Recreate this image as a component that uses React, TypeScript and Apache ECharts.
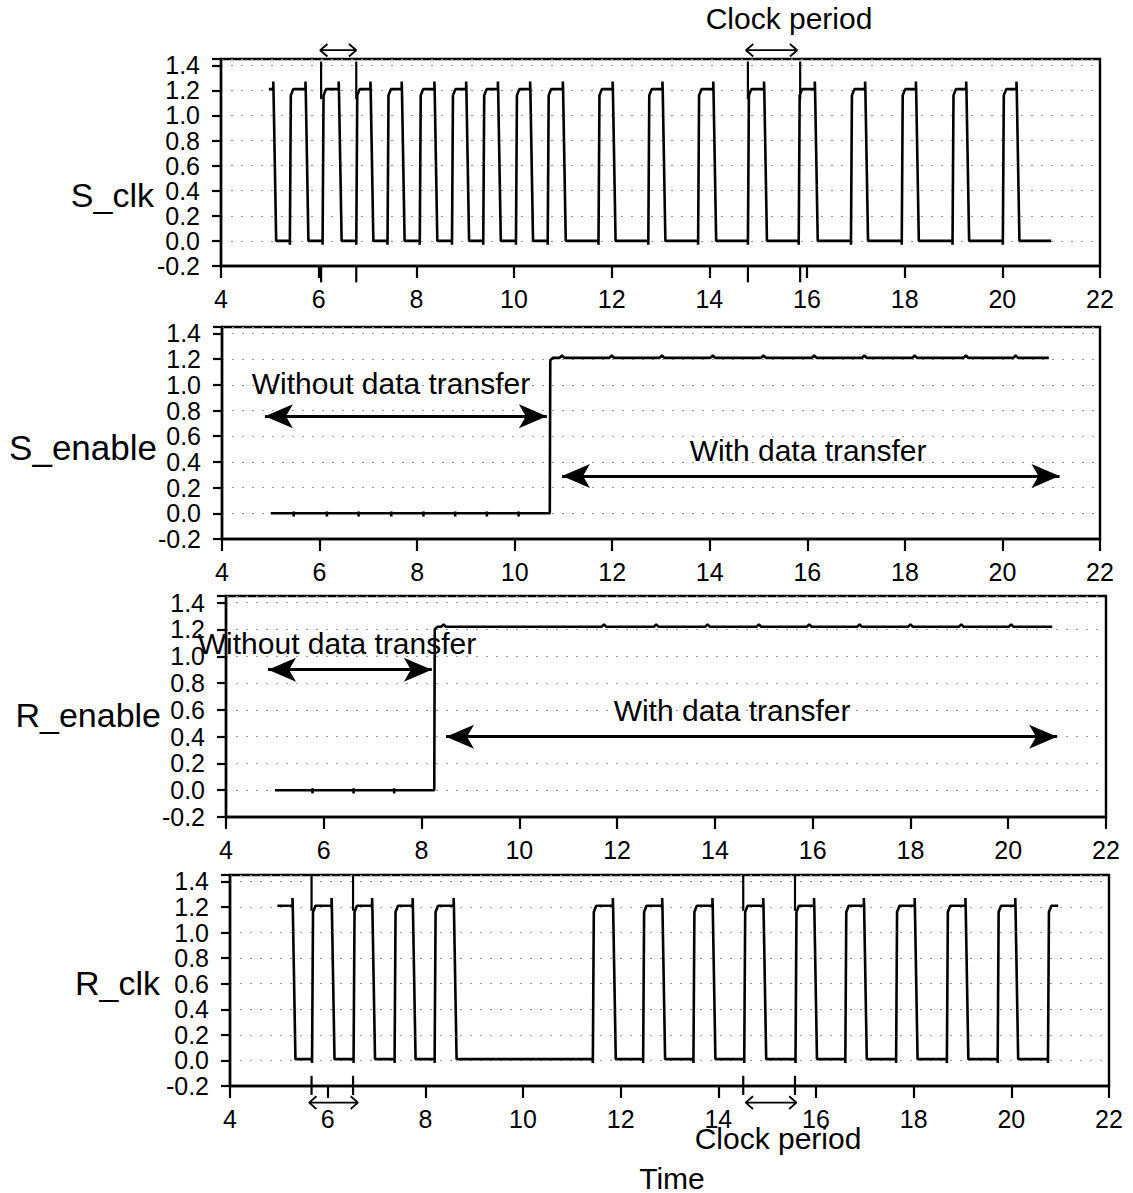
import React, { useEffect, useRef } from 'react';
import * as echarts from 'echarts';

const FONT = '"Liberation Sans", Arial, Helvetica, sans-serif';

// ---------- axes ----------
const X_MIN = 4;
const X_MAX = 22;
const X_STEP = 2;
const Y_MIN = -0.2;
const Y_MAX = 1.45;
const Y_STEP = 0.2;

// ---------- S_clk ----------
const S_CLK_START = 4.98;
const S_CLK_END = 21.0;
const S_CLK_HIGH = 1.21;
const S_CLK_LOW = 0.0;
const S_CLK_EDGES = [
  5.07, 5.41, 5.73, 6.08, 6.41, 6.77, 7.06, 7.41, 7.7, 8.07, 8.37, 8.73, 9.02, 9.37,
  9.67, 10.04, 10.33, 10.69, 11.0, 11.73, 12.02, 12.75, 13.04, 13.77, 14.08, 14.79,
  15.12, 15.83, 16.16, 16.9, 17.19, 17.94, 18.23, 18.98, 19.26, 20.01, 20.29,
];
const S_CLK_MARKS = [6.05, 6.77, 14.79, 15.86];
const S_CLK_MARK_TOP = [1.13, 1.43];
const S_CLK_MARK_BOTTOM = [-0.2, -0.33];
const S_CLK_PERIOD_ARROWS = [
  [6.03, 6.77],
  [14.75, 15.8],
];
const S_CLK_ARROW_Y = 1.52;

// ---------- S_enable ----------
const S_EN_START = 5.0;
const S_EN_RISE = 10.72;
const S_EN_END = 20.95;
const S_EN_LOW = 0.0;
const S_EN_HIGH = 1.21;
const S_EN_LOW_BUMPS = [5.47, 6.15, 6.8, 7.47, 8.13, 8.78, 9.43, 10.08];
const S_EN_HIGH_BUMPS = [10.97, 11.99, 13.02, 14.06, 15.1, 16.14, 17.17, 18.2, 19.25, 20.27];
const S_EN_ARROWS = [
  { from: 4.88, to: 10.66, y: 0.755 },
  { from: 10.97, to: 21.17, y: 0.29 },
];

// ---------- R_enable ----------
const R_EN_START = 5.0;
const R_EN_RISE = 8.26;
const R_EN_END = 20.9;
const R_EN_LOW = 0.0;
const R_EN_HIGH = 1.22;
const R_EN_LOW_BUMPS = [5.77, 6.61, 7.44];
const R_EN_HIGH_BUMPS = [8.45, 11.73, 12.8, 13.85, 14.9, 15.93, 16.96, 18.0, 19.04, 20.06];
const R_EN_ARROWS = [
  { from: 4.86, to: 8.21, y: 0.9 },
  { from: 8.5, to: 21.0, y: 0.4 },
];

// ---------- R_clk ----------
const R_CLK_START = 4.97;
const R_CLK_END = 20.96;
const R_CLK_HIGH = 1.21;
const R_CLK_LOW = 0.01;
const R_CLK_EDGES = [
  5.28, 5.68, 6.08, 6.53, 6.91, 7.37, 7.74, 8.19, 8.58, 11.43, 11.84, 12.46, 12.85,
  13.49, 13.88, 14.53, 14.92, 15.58, 15.96, 16.6, 16.98, 17.64, 18.02, 18.68, 19.06,
  19.72, 20.08, 20.75,
];
const R_CLK_MARKS = [5.67, 6.52, 14.51, 15.57];
const R_CLK_MARK_TOP = [1.17, 1.45];
const R_CLK_MARK_BOTTOM = [-0.12, -0.27];
const R_CLK_PERIOD_ARROWS = [
  [5.62, 6.62],
  [14.56, 15.6],
];
const R_CLK_ARROW_Y = -0.33;

// ---------- waveform builders ----------
function clockWave(start: number, edges: number[], end: number, high: number, low: number) {
  const pts: number[][] = [[start, high]];
  let isHigh = true;
  for (const e of edges) {
    if (isHigh) {
      pts.push([e, high], [e, high + 0.06], [e + 0.005, high], [e + 0.06, low]);
    } else {
      pts.push([e, low], [e, low - 0.03], [e + 0.02, high - 0.05], [e + 0.07, high]);
    }
    isHigh = !isHigh;
  }
  pts.push([end, isHigh ? high : low]);
  return pts;
}

function enableWave(
  start: number,
  rise: number,
  end: number,
  low: number,
  high: number,
  lowBumps: number[],
  highBumps: number[]
) {
  const pts: number[][] = [[start, low]];
  for (const b of lowBumps) pts.push([b, low], [b, low + 0.015], [b, low - 0.025], [b, low]);
  pts.push([rise, low], [rise + 0.01, high - 0.02], [rise + 0.06, high]);
  for (const b of highBumps) pts.push([b - 0.05, high], [b, high + 0.018], [b + 0.05, high]);
  pts.push([end, high]);
  return pts;
}

const LINE_STYLE = { color: '#000', width: 2.6 };

function seg(grid: number, data: number[][], width = 2.2) {
  return {
    type: 'line',
    xAxisIndex: grid,
    yAxisIndex: grid,
    data,
    symbol: 'none',
    showSymbol: false,
    clip: false,
    silent: true,
    lineStyle: { color: '#000', width },
    z: 5,
  };
}

function chevronArrow(grid: number, t1: number, t2: number, y: number) {
  const dx = 0.15;
  const dy = 0.05;
  return seg(
    grid,
    [
      [t1 + dx, y + dy],
      [t1, y],
      [t1 + dx, y - dy],
      [t1, y],
      [t2, y],
      [t2 - dx, y + dy],
      [t2, y],
      [t2 - dx, y - dy],
    ],
    1.8
  );
}

function markers(grid: number, ts: number[], top: number[], bottom: number[]) {
  const out: any[] = [];
  for (const t of ts) {
    out.push(seg(grid, [[t, top[0]], [t, top[1]]], 2.2));
    out.push(seg(grid, [[t, bottom[0]], [t, bottom[1]]], 2.2));
  }
  return out;
}

function bigArrows(arrows: { from: number; to: number; y: number }[]) {
  return {
    silent: true,
    symbol: ['arrow', 'arrow'],
    symbolSize: [18, 28],
    lineStyle: { color: '#000', width: 3, type: 'solid' },
    label: { show: false },
    emphasis: { disabled: true },
    data: arrows.map((a) => [{ coord: [a.from, a.y] }, { coord: [a.to, a.y] }]),
  };
}

const GRIDS = [
  { left: 221, top: 59, width: 879, height: 207 },
  { left: 222, top: 327, width: 878, height: 212 },
  { left: 226, top: 596, width: 880, height: 221 },
  { left: 230, top: 875, width: 879, height: 211 },
];

function buildOption() {
  const grid = GRIDS.map((g) => ({
    ...g,
    show: true,
    borderColor: '#000',
    borderWidth: 2.4,
    backgroundColor: 'transparent',
    containLabel: false,
    outerBoundsMode: 'none',
  }));
  const xAxis = GRIDS.map((_, i) => ({
    type: 'value',
    gridIndex: i,
    min: X_MIN,
    max: X_MAX,
    interval: X_STEP,
    axisLine: { show: true, onZero: false, lineStyle: { color: '#000', width: 2.4 } },
    axisTick: { show: true, inside: false, length: 12, lineStyle: { color: '#000', width: 2.2 } },
    axisLabel: {
      fontSize: 25,
      color: '#000',
      fontFamily: FONT,
      margin: 20,
      showMinLabel: true,
      showMaxLabel: true,
      hideOverlap: false,
    },
    splitLine: { show: false },
  }));
  const yAxis = GRIDS.map((_, i) => ({
    type: 'value',
    gridIndex: i,
    min: Y_MIN,
    max: Y_MAX,
    interval: Y_STEP,
    axisLine: { show: true, onZero: false, lineStyle: { color: '#000', width: 2.4 } },
    axisTick: { show: true, inside: false, length: 9, lineStyle: { color: '#000', width: 2.2 } },
    axisLabel: {
      fontSize: 25,
      lineHeight: 22,
      color: '#000',
      fontFamily: FONT,
      margin: 21,
      showMinLabel: true,
      hideOverlap: false,
      formatter: (v: number) => (v > 1.41 ? '' : v.toFixed(1)),
    },
    splitLine: { show: true, lineStyle: { color: '#999', width: 1, type: [2, 8] } },
  }));

  const series: any[] = [
    {
      ...seg(0, clockWave(S_CLK_START, S_CLK_EDGES, S_CLK_END, S_CLK_HIGH, S_CLK_LOW)),
      lineStyle: LINE_STYLE,
    },
    {
      ...seg(1, enableWave(S_EN_START, S_EN_RISE, S_EN_END, S_EN_LOW, S_EN_HIGH, S_EN_LOW_BUMPS, S_EN_HIGH_BUMPS)),
      lineStyle: LINE_STYLE,
      markLine: bigArrows(S_EN_ARROWS),
    },
    {
      ...seg(2, enableWave(R_EN_START, R_EN_RISE, R_EN_END, R_EN_LOW, R_EN_HIGH, R_EN_LOW_BUMPS, R_EN_HIGH_BUMPS)),
      lineStyle: LINE_STYLE,
      markLine: bigArrows(R_EN_ARROWS),
    },
    {
      ...seg(3, clockWave(R_CLK_START, R_CLK_EDGES, R_CLK_END, R_CLK_HIGH, R_CLK_LOW)),
      lineStyle: LINE_STYLE,
    },
    ...markers(0, S_CLK_MARKS, S_CLK_MARK_TOP, S_CLK_MARK_BOTTOM),
    ...markers(3, R_CLK_MARKS, R_CLK_MARK_TOP, R_CLK_MARK_BOTTOM),
    ...S_CLK_PERIOD_ARROWS.map((a) => chevronArrow(0, a[0], a[1], S_CLK_ARROW_Y)),
    ...R_CLK_PERIOD_ARROWS.map((a) => chevronArrow(3, a[0], a[1], R_CLK_ARROW_Y)),
  ];

  const txt = (text: string, x: number, y: number, size: number, align = 'center') => ({
    type: 'text',
    x,
    y,
    silent: true,
    style: {
      text,
      fontSize: size,
      fontFamily: FONT,
      fill: '#000',
      align,
      verticalAlign: 'middle',
    },
    z: 10,
  });

  const graphic = [
    txt('S_clk', 154, 195, 34, 'right'),
    txt('S_enable', 157, 447, 35, 'right'),
    txt('R_enable', 161, 715, 34, 'right'),
    txt('R_clk', 160, 983, 34, 'right'),
    txt('Clock period', 789, 18, 30),
    txt('Without data transfer', 391, 383, 30),
    txt('With data transfer', 808, 450, 30),
    txt('Without data transfer', 337, 643, 30),
    txt('With data transfer', 732, 710, 30),
    txt('Clock period', 778, 1138, 30),
    txt('Time', 672, 1178, 30),
  ];

  return {
    animation: false,
    backgroundColor: '#fff',
    grid,
    xAxis,
    yAxis,
    series,
    graphic,
  };
}

export default function App() {
  const ref = useRef<HTMLDivElement>(null);
  useEffect(() => {
    if (!ref.current) return;
    const chart = echarts.init(ref.current, undefined, { renderer: 'svg' });
    chart.setOption(buildOption() as any);
    return () => chart.dispose();
  }, []);
  return (
    <div
      ref={ref}
      style={{ position: 'absolute', left: 0, top: 0, width: 1133, height: 1193, background: '#fff' }}
    />
  );
}
